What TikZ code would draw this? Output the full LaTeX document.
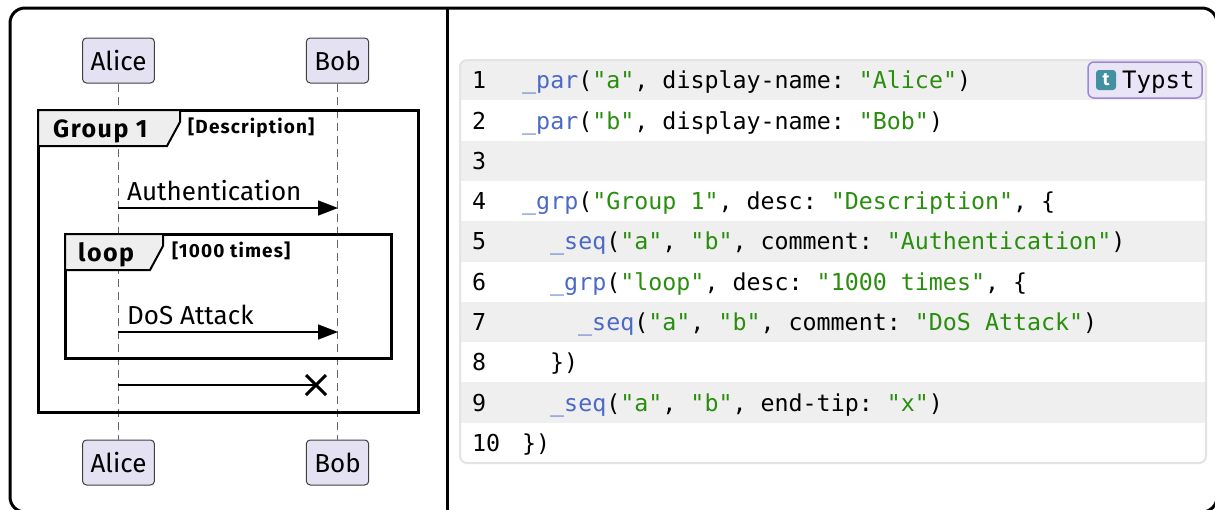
\documentclass[tikz,border=0pt]{standalone}
\usepackage{fontspec}
\setmainfont{Fira Sans}
\newfontfamily\codefont{DejaVu Sans Mono}
\newfontfamily\tabfont[LetterSpace=6]{Fira Sans}
\usetikzlibrary{calc}
\usetikzlibrary{arrows.meta}

\definecolor{partfill}{HTML}{E4E2F2}
\definecolor{tabfill}{HTML}{EEEEEE}
\definecolor{rowfill}{HTML}{EFEFEF}
\definecolor{codeborder}{HTML}{E3E3E3}
\definecolor{fnblue}{HTML}{4B69C6}
\definecolor{strgreen}{HTML}{298E0D}
\definecolor{badgefill}{HTML}{E9E5F7}
\definecolor{badgeline}{HTML}{9B87D6}
\definecolor{typstteal}{HTML}{4290A0}

\tikzset{
	participant/.style = {draw=black!75, line width=1pt, fill=partfill, rounded corners=4pt,
		minimum height=45pt, inner xsep=8pt, font=\fontsize{26}{30}\selectfont},
	lifeline/.style = {draw=black!60, line width=1pt, dash pattern=on 8pt off 5pt},
	frame/.style = {draw=black, line width=3pt},
	grptab/.style = {draw=black, line width=2pt, fill=tabfill, line join=miter},
	grpname/.style = {anchor=base west, inner sep=0pt, font=\tabfont\fontsize{25}{28}\selectfont\bfseries},
	grpdesc/.style = {anchor=base west, inner sep=0pt, font=\tabfont\fontsize{19}{22}\selectfont\bfseries},
	msg/.style = {draw=black, line width=1.4pt, -{Triangle[length=20pt,width=15pt]}},
	comment/.style = {anchor=base west, inner sep=0pt, font=\fontsize{26}{30}\selectfont},
	lineno/.style = {anchor=base west, inner sep=0pt, font=\codefont\fontsize{23.3}{28}\selectfont},
	codeline/.style = {anchor=base west, inner sep=0pt, font=\codefont\fontsize{23.3}{28}\selectfont\frenchspacing}
}
\newcommand{\fn}[1]{\textcolor{fnblue}{#1}}
\newcommand{\str}[1]{\textcolor{strgreen}{#1}}

\begin{document}
\begin{tikzpicture}[x=1pt, y=-1pt]
	\useasboundingbox (0,0) rectangle (1215,509);
	\begin{scope}
		\clip (0,0) rectangle (1215,509);
		\draw [line width=3pt, rounded corners=15pt] (10,8) rectangle (1217,512);
		\draw [line width=3pt] (447,8) -- (447,512);
	\end{scope}

	% participants and lifelines
	\node [participant] (alicetop) at (118.5,60.5) {Alice};
	\node [participant] (bobtop) at (337.5,60.5) {Bob};
	\node [participant] (alicebot) at (118.5,462.5) {Alice};
	\node [participant] (bobbot) at (337.5,462.5) {Bob};
	\draw [lifeline] (alicetop) -- (alicebot);
	\draw [lifeline] (bobtop) -- (bobbot);

	% group 1
	\draw [frame] (38,110) rectangle (418,412);
	\draw [grptab] (38,110) -- (180,110) -- (180,122) -- (167,146) -- (38,146) -- cycle;
	\node [grpname] (grp1) at (53,137) {Group 1};
	\node [grpdesc] (grp1desc) at (188,133) {[Description]};

	\coordinate (a1) at (118,208);
	\coordinate (b1) at (338,208);
	\draw [msg] (a1) -- (b1);
	\node [comment] (auth) at (127,200) {Authentication};

	% loop
	\draw [frame] (65,234) rectangle (391,358);
	\draw [grptab] (65,234) -- (163,234) -- (163,246) -- (150,270) -- (65,270) -- cycle;
	\node [grpname] (loop) at (78,261) {loop};
	\node [grpdesc] (loopdesc) at (172,257) {[1000 times]};

	\coordinate (a2) at (118,332);
	\coordinate (b2) at (338,332);
	\draw [msg] (a2) -- (b2);
	\node [comment] (dos) at (127,324) {DoS Attack};

	\coordinate (a3) at (118,385);
	\coordinate (x3) at (316,385);
	\draw [line width=1.4pt] (a3) -- (x3);
	\draw [line width=3pt] ($(x3)+(-10,-10)$) -- ($(x3)+(10,10)$)
		($(x3)+(-10,10)$) -- ($(x3)+(10,-10)$);

	% code block
	\begin{scope}
		\clip [rounded corners=7pt] (460,60) rectangle (1206,463);
		\foreach \i in {1,3,...,9}
			\fill [rowfill] (460,{60+(\i-1)*40.3}) rectangle (1206,{60+\i*40.3});
	\end{scope}
	\draw [codeborder, line width=2pt, rounded corners=7pt] (460,60) rectangle (1206,463);
	\foreach \i in {1,...,10}
		\node [lineno] (n\i) at (472,{88.7+(\i-1)*40.3}) {\i};

	\node [codeline] (c1) at (522,88.7) {\fn{\_par}(\str{"a"}, display-name: \str{"Alice"})};
	\node [codeline] (c2) at (522,129.0) {\fn{\_par}(\str{"b"}, display-name: \str{"Bob"})};
	\node [codeline] (c4) at (522,209.6) {\fn{\_grp}(\str{"Group 1"}, desc: \str{"Description"}, \{};
	\node [codeline] (c5) at (550,249.9) {\fn{\_seq}(\str{"a"}, \str{"b"}, comment: \str{"Authentication"})};
	\node [codeline] (c6) at (550,290.2) {\fn{\_grp}(\str{"loop"}, desc: \str{"1000 times"}, \{};
	\node [codeline] (c7) at (578,330.5) {\fn{\_seq}(\str{"a"}, \str{"b"}, comment: \str{"DoS Attack"})};
	\node [codeline] (c8) at (550,370.8) {\})};
	\node [codeline] (c9) at (550,411.1) {\fn{\_seq}(\str{"a"}, \str{"b"}, end-tip: \str{"x"})};
	\node [codeline] (c10) at (522,451.4) {\})};

	% typst badge
	\draw [badgeline, fill=badgefill, line width=1.5pt, rounded corners=6pt] (1088,62) rectangle (1202,98);
	\node [fill=typstteal, rounded corners=3pt, minimum size=20pt, inner sep=0pt, text=white,
		font=\fontsize{18}{20}\selectfont\bfseries] (icon) at (1106,80) {t};
	\node [codeline, font=\codefont\fontsize{24}{28}\selectfont] (badge) at (1122,88.5) {Typst};
\end{tikzpicture}
\end{document}
